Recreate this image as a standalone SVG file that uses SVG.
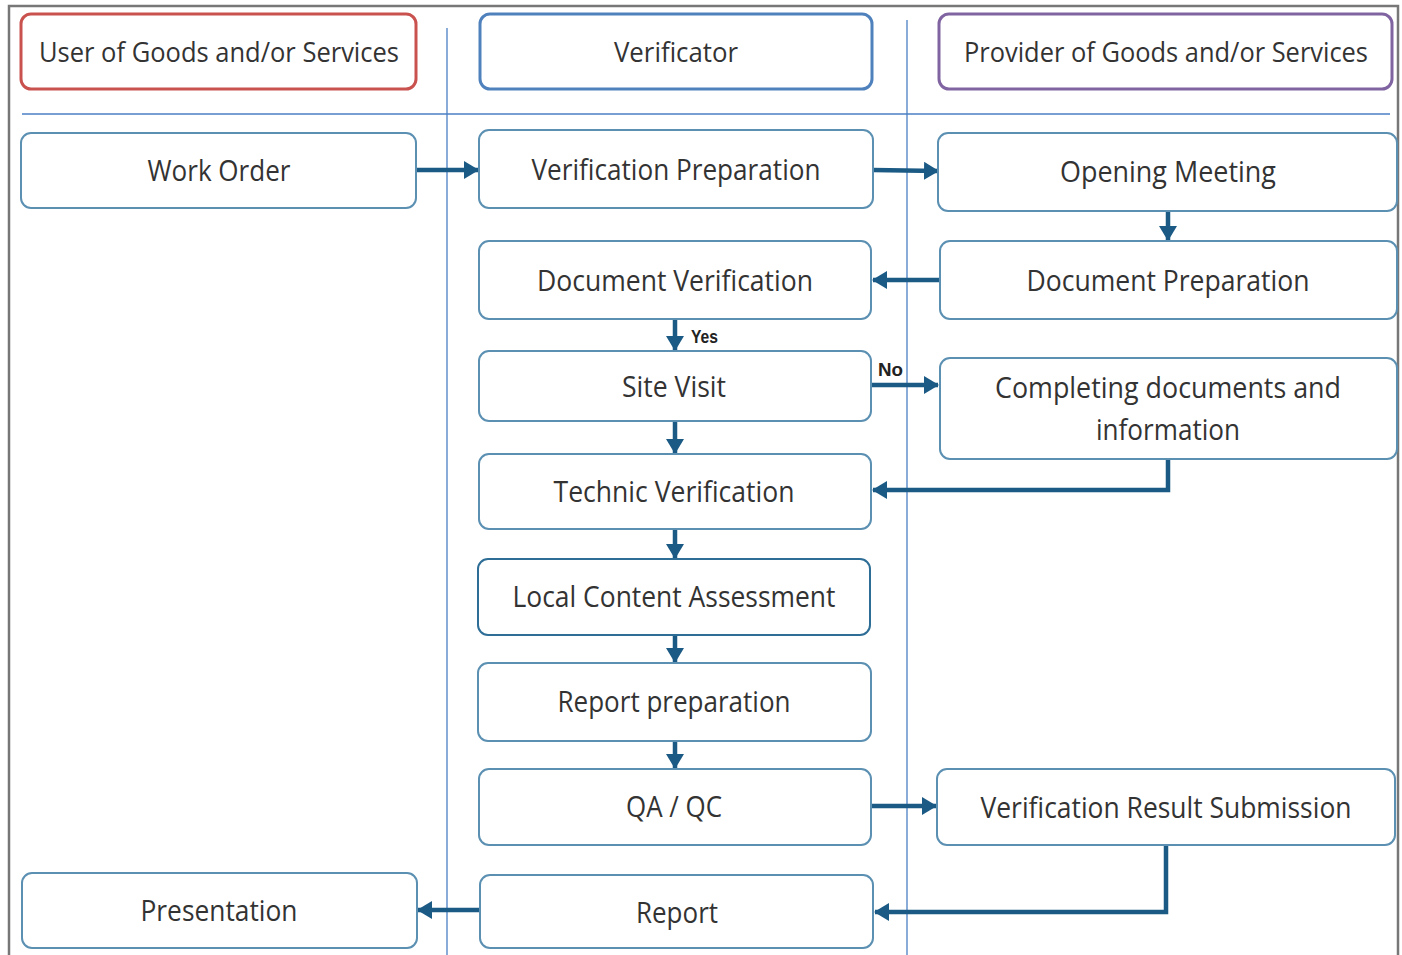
<svg xmlns="http://www.w3.org/2000/svg" width="1402" height="955" viewBox="0 0 1402 955">
<defs>
<style>
.t{font-family:"Open Sans","Liberation Sans",sans-serif;font-size:30px;fill:#333;text-anchor:middle}
.h{font-size:27px}
.lb{font-family:"Liberation Sans",sans-serif;font-size:19px;font-weight:bold;fill:#222}
.n{fill:#fff;stroke:#5b90b2;stroke-width:2}
.c{fill:none;stroke:#1b5a84;stroke-width:4.5;marker-end:url(#ah)}
.lane{stroke:#4a7fc4;stroke-width:1.3;fill:none}
</style>
<marker id="ah" markerUnits="userSpaceOnUse" markerWidth="16" markerHeight="18" refX="14" refY="9" orient="auto">
<path d="M0,0 L15,9 L0,18 Z" fill="#1b5a84"/>
</marker>
</defs>
<rect width="1402" height="955" fill="#fff"/>
<path d="M9,955 V6 H1398 V955" fill="none" stroke="#777" stroke-width="2.5"/>
<g id="lanes">
<line class="lane" x1="22" y1="114" x2="1390" y2="114"/>
<line class="lane" x1="447" y1="28" x2="447" y2="955"/>
<line class="lane" x1="907" y1="20" x2="907" y2="955"/>
</g>
<g id="h-user"><rect x="21" y="14" width="395" height="75" rx="10" fill="#fff" stroke="#c9524f" stroke-width="3"/><text class="t h" x="219" y="62" textLength="360" lengthAdjust="spacingAndGlyphs">User of Goods and/or Services</text></g>
<g id="h-verificator"><rect x="480" y="14" width="392" height="75" rx="10" fill="#fff" stroke="#4f81bd" stroke-width="3"/><text class="t h" x="676" y="62" textLength="124" lengthAdjust="spacingAndGlyphs">Verificator</text></g>
<g id="h-provider"><rect x="939" y="14" width="453" height="75" rx="10" fill="#fff" stroke="#8064a2" stroke-width="3"/><text class="t h" x="1166" y="62" textLength="404" lengthAdjust="spacingAndGlyphs">Provider of Goods and/or Services</text></g>
<g id="connectors">
<line class="c" x1="416" y1="170" x2="478" y2="170"/>
<line class="c" x1="873" y1="170" x2="938" y2="171"/>
<line class="c" x1="1168" y1="211" x2="1168" y2="240"/>
<line class="c" x1="940" y1="280" x2="873" y2="280"/>
<line class="c" x1="675" y1="319" x2="675" y2="350"/>
<line class="c" x1="871" y1="385" x2="938" y2="385"/>
<polyline class="c" points="1168,459 1168,490 873,490"/>
<line class="c" x1="675" y1="421" x2="675" y2="453"/>
<line class="c" x1="675" y1="529" x2="675" y2="558"/>
<line class="c" x1="675" y1="635" x2="675" y2="662"/>
<line class="c" x1="675" y1="741" x2="675" y2="768"/>
<line class="c" x1="871" y1="806" x2="936" y2="806"/>
<polyline class="c" points="1166,845 1166,912 875,912"/>
<line class="c" x1="480" y1="910" x2="418" y2="910"/>
<text class="lb" x="691" y="343" textLength="27" lengthAdjust="spacingAndGlyphs">Yes</text>
<text class="lb" x="878" y="376" textLength="25" lengthAdjust="spacingAndGlyphs">No</text>
</g>
<g id="work-order"><rect class="n" x="21" y="133" width="395" height="75" rx="10"/><text class="t" x="219" y="181" textLength="143" lengthAdjust="spacingAndGlyphs">Work Order</text></g>
<g id="verification-preparation"><rect class="n" x="479" y="130" width="394" height="78" rx="10"/><text class="t" x="676" y="180" textLength="289" lengthAdjust="spacingAndGlyphs">Verification Preparation</text></g>
<g id="opening-meeting"><rect class="n" x="938" y="133" width="459" height="78" rx="10"/><text class="t" x="1168" y="182" textLength="216" lengthAdjust="spacingAndGlyphs">Opening Meeting</text></g>
<g id="document-verification"><rect class="n" x="479" y="241" width="392" height="78" rx="10"/><text class="t" x="675" y="291" textLength="276" lengthAdjust="spacingAndGlyphs">Document Verification</text></g>
<g id="document-preparation"><rect class="n" x="940" y="241" width="457" height="78" rx="10"/><text class="t" x="1168" y="291" textLength="283" lengthAdjust="spacingAndGlyphs">Document Preparation</text></g>
<g id="site-visit"><rect class="n" x="479" y="351" width="392" height="70" rx="10"/><text class="t" x="674" y="397" textLength="104" lengthAdjust="spacingAndGlyphs">Site Visit</text></g>
<g id="completing-documents"><rect class="n" x="940" y="358" width="457" height="101" rx="10"/><text class="t" x="1168" y="398" textLength="346" lengthAdjust="spacingAndGlyphs">Completing documents and</text><text class="t" x="1168" y="440" textLength="144" lengthAdjust="spacingAndGlyphs">information</text></g>
<g id="technic-verification"><rect class="n" x="479" y="454" width="392" height="75" rx="10"/><text class="t" x="674" y="502" textLength="241" lengthAdjust="spacingAndGlyphs">Technic Verification</text></g>
<g id="local-content-assessment"><rect class="n" x="478" y="559" width="392" height="76" rx="10" style="stroke:#2e6e96"/><text class="t" x="674" y="607" textLength="323" lengthAdjust="spacingAndGlyphs">Local Content Assessment</text></g>
<g id="report-preparation"><rect class="n" x="478" y="663" width="393" height="78" rx="10"/><text class="t" x="674" y="712" textLength="233" lengthAdjust="spacingAndGlyphs">Report preparation</text></g>
<g id="qa-qc"><rect class="n" x="479" y="769" width="392" height="76" rx="10"/><text class="t" x="674" y="817" textLength="96" lengthAdjust="spacingAndGlyphs">QA / QC</text></g>
<g id="verification-result-submission"><rect class="n" x="937" y="769" width="458" height="76" rx="10"/><text class="t" x="1166" y="818" textLength="371" lengthAdjust="spacingAndGlyphs">Verification Result Submission</text></g>
<g id="presentation"><rect class="n" x="22" y="873" width="395" height="75" rx="10"/><text class="t" x="219" y="921" textLength="157" lengthAdjust="spacingAndGlyphs">Presentation</text></g>
<g id="report"><rect class="n" x="480" y="875" width="393" height="73" rx="10"/><text class="t" x="677" y="923" textLength="82" lengthAdjust="spacingAndGlyphs">Report</text></g>
</svg>
